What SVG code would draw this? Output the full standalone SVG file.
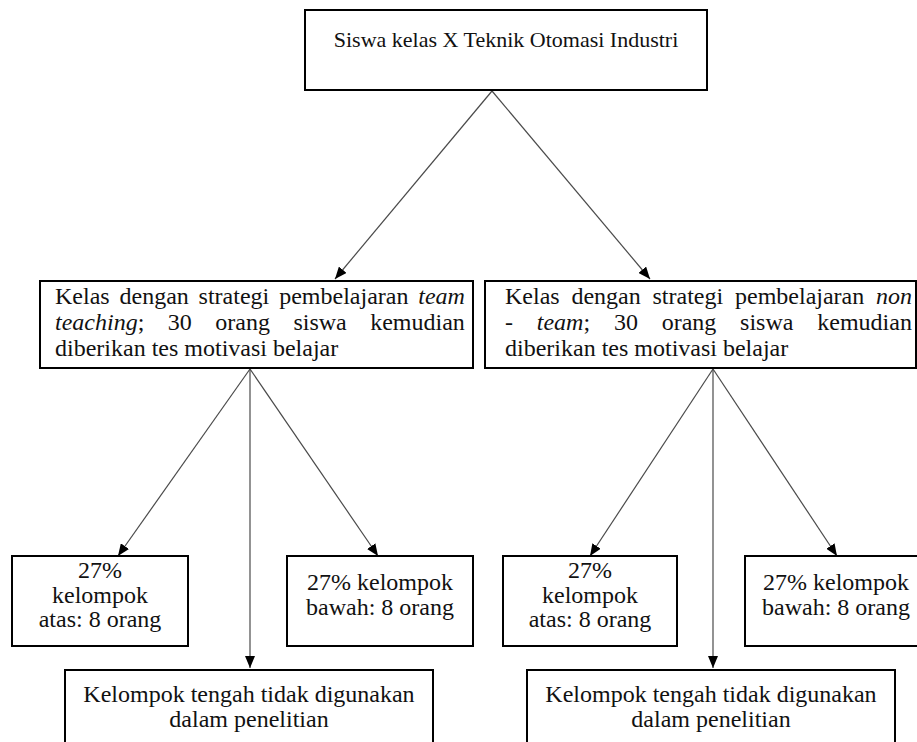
<svg xmlns="http://www.w3.org/2000/svg" width="917" height="742" viewBox="0 0 917 742">
<defs>
<style>
.box{fill:#fff;stroke:#000;stroke-width:2}
.lbl{font-family:"Liberation Serif","Times New Roman",serif;font-size:24px;fill:#111}
.ttl{font-family:"Liberation Serif","Times New Roman",serif;font-size:22px;fill:#111}
.mid{text-anchor:middle}
.it{font-style:italic}
.con{stroke:#4a4a4a;stroke-width:1.2;fill:none;marker-end:url(#ah)}
</style>
<marker id="ah" viewBox="0 0 12 10" refX="12" refY="5" markerWidth="12" markerHeight="10" markerUnits="userSpaceOnUse" orient="auto">
<path d="M0,0 L12,5 L0,10 z" fill="#000"/>
</marker>
</defs>
<rect width="917" height="742" fill="#fff"/>
<g id="connectors">
<line class="con" x1="492" y1="91" x2="335" y2="279"/>
<line class="con" x1="492" y1="91" x2="650" y2="279"/>
<line class="con" x1="250" y1="369" x2="118" y2="556"/>
<line class="con" x1="250" y1="369" x2="250" y2="668"/>
<line class="con" x1="250" y1="369" x2="378" y2="556"/>
<line class="con" x1="713" y1="369" x2="590" y2="556"/>
<line class="con" x1="713" y1="369" x2="713" y2="668"/>
<line class="con" x1="713" y1="369" x2="837" y2="556"/>
</g>
<g id="top">
<rect class="box" x="305" y="10" width="402" height="80"/>
<text class="ttl mid" x="506" y="47">Siswa kelas X Teknik Otomasi Industri</text>
</g>
<g id="team">
<rect class="box" x="40" y="281" width="433" height="87"/>
<text class="lbl"><tspan x="55" y="304">Kelas</tspan><tspan x="119.5" y="304">dengan</tspan><tspan x="198.6" y="304">strategi</tspan><tspan x="279.2" y="304">pembelajaran</tspan><tspan x="418.3" y="304" class="it">team</tspan></text>
<text class="lbl"><tspan x="55" y="330" class="it">teaching</tspan><tspan>;</tspan><tspan x="167.8" y="330">30</tspan><tspan x="215.3" y="330">orang</tspan><tspan x="293.4" y="330">siswa</tspan><tspan x="370.2" y="330">kemudian</tspan></text>
<text class="lbl" x="55" y="356">diberikan tes motivasi belajar</text>
</g>
<g id="nonteam">
<rect class="box" x="485" y="281" width="431" height="87"/>
<text class="lbl"><tspan x="505" y="304">Kelas</tspan><tspan x="571.4" y="304">dengan</tspan><tspan x="652.5" y="304">strategi</tspan><tspan x="735" y="304">pembelajaran</tspan><tspan x="876" y="304" class="it">non</tspan></text>
<text class="lbl"><tspan x="505" y="330">-</tspan><tspan x="536.8" y="330" class="it">team</tspan><tspan>;</tspan><tspan x="613.9" y="330">30</tspan><tspan x="661.7" y="330">orang</tspan><tspan x="740.1" y="330">siswa</tspan><tspan x="817.3" y="330">kemudian</tspan></text>
<text class="lbl" x="505" y="356">diberikan tes motivasi belajar</text>
</g>
<g id="atas1">
<rect class="box" x="12" y="556" width="176" height="90"/>
<text class="lbl mid"><tspan x="100" y="578">27%</tspan><tspan x="100" y="603">kelompok</tspan><tspan x="100" y="627">atas: 8 orang</tspan></text>
</g>
<g id="bawah1">
<rect class="box" x="287" y="556" width="186" height="90"/>
<text class="lbl mid"><tspan x="380" y="590">27% kelompok</tspan><tspan x="380" y="615">bawah: 8 orang</tspan></text>
</g>
<g id="tengah1">
<rect class="box" x="65" y="670" width="368" height="90"/>
<text class="lbl mid"><tspan x="249" y="702">Kelompok tengah tidak digunakan</tspan><tspan x="249" y="727">dalam penelitian</tspan></text>
</g>
<g id="atas2">
<rect class="box" x="503" y="556" width="174" height="90"/>
<text class="lbl mid"><tspan x="590" y="578">27%</tspan><tspan x="590" y="603">kelompok</tspan><tspan x="590" y="627">atas: 8 orang</tspan></text>
</g>
<g id="bawah2">
<rect class="box" x="745" y="556" width="183" height="90"/>
<text class="lbl mid"><tspan x="836" y="590">27% kelompok</tspan><tspan x="836" y="615">bawah: 8 orang</tspan></text>
</g>
<g id="tengah2">
<rect class="box" x="527" y="670" width="368" height="90"/>
<text class="lbl mid"><tspan x="711" y="702">Kelompok tengah tidak digunakan</tspan><tspan x="711" y="727">dalam penelitian</tspan></text>
</g>
</svg>
